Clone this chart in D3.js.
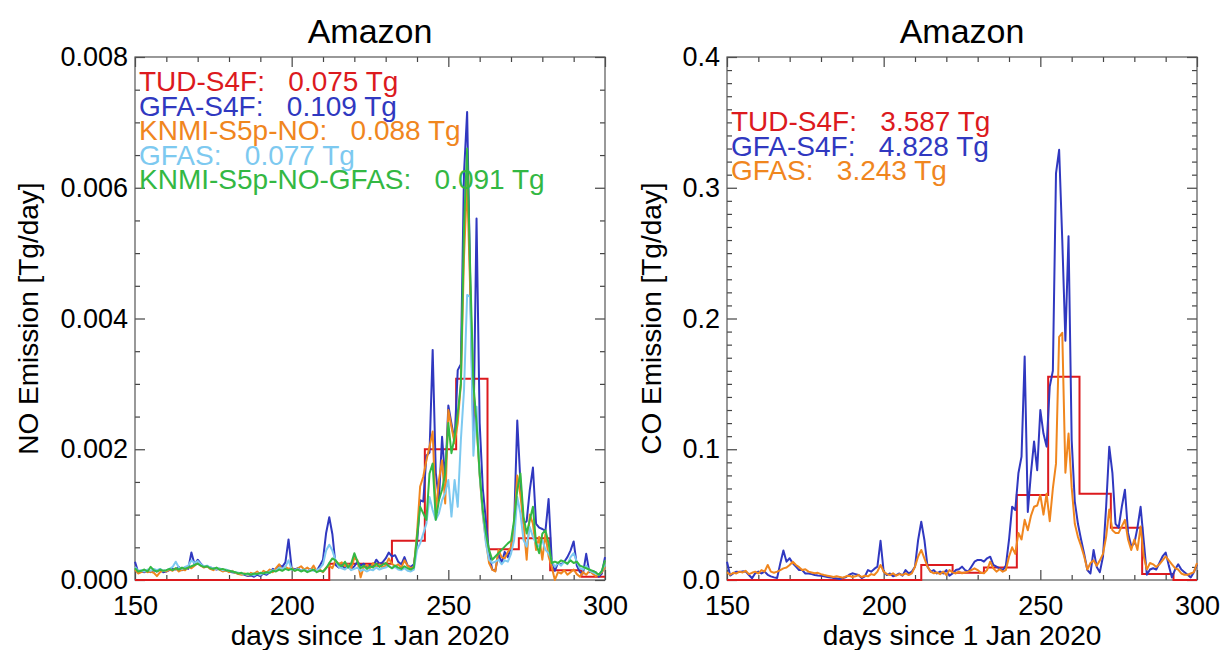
<!DOCTYPE html>
<html><head><meta charset="utf-8">
<script src="https://cdn.jsdelivr.net/npm/d3@7"></script>
<style>html,body{margin:0;padding:0;background:#fff;}svg{display:block;}</style>
</head><body>
<svg id="chart" width="1221" height="650"></svg>
<script>
// ---------------- DATA ----------------
const dayStart = 150, dayEnd = 300;
const xTickValues = [150, 200, 250, 300];
const noTickValues = [0, 0.002, 0.004, 0.006, 0.008];
const coTickValues = [0, 0.1, 0.2, 0.3, 0.4];

// TUD-S4F step periods (start day of each period) and values
const stepStarts = [150, 212, 222, 232, 242.5, 252.5, 262.5, 272.5, 282.5, 292.5];
const tudNO = [0, 0.00025, 0.00025, 0.0006, 0.0020, 0.00308, 0.00047, 0.00064, 0.00015, 0.00005];
const tudCO = [0, 0.0115, 0.0055, 0.0095, 0.065, 0.1555, 0.066, 0.040, 0.0046, 0.0];

// daily series, day 150..300
const gfaNO = [
0.00028,0.00012,0.00013,0.00012,0.00014,0.00012,0.00015,0.00013,0.00016,0.00012,
0.00013,0.00015,0.00017,0.00016,0.00020,0.00015,0.00018,0.00017,0.00042,0.00024,
0.00031,0.00025,0.00020,0.00021,0.00019,0.00018,0.00016,0.00017,0.00014,0.00015,
0.00013,0.00012,0.00011,0.00010,0.00009,0.00008,0.00006,0.00007,0.00005,0.00008,
0.00006,0.00010,0.00008,0.00012,0.00017,0.00014,0.00023,0.00020,0.00027,0.00062,
0.00018,0.00016,0.00018,0.00014,0.00016,0.00013,0.00017,0.00015,0.00014,0.00022,
0.00031,0.00072,0.00096,0.00070,0.00023,0.00019,0.00022,0.00018,0.00024,0.00017,
0.00021,0.00028,0.00022,0.00025,0.00020,0.00023,0.00021,0.00031,0.00025,0.00027,
0.00033,0.00042,0.00036,0.00038,0.00028,0.00024,0.00035,0.00022,0.00020,0.00024,
0.00056,0.00122,0.00120,0.00190,0.00195,0.00352,0.00164,0.00122,0.00219,0.00153,
0.00267,0.00239,0.00213,0.00321,0.00330,0.00622,0.00716,0.00450,0.00220,0.00553,
0.00240,0.00140,0.00090,0.00040,0.00016,0.00014,0.00041,0.00026,0.00043,0.00035,
0.00050,0.00086,0.00244,0.00150,0.00086,0.00090,0.00138,0.00172,0.00086,0.00080,
0.00078,0.00075,0.00124,0.00030,0.00014,0.00026,0.00024,0.00028,0.00035,0.00045,
0.00059,0.00022,0.00012,0.00010,0.00040,0.00012,0.00014,0.00012,0.00005,0.00010,
0.00035];
const knmiNO = [
0.00016,0.00010,0.00012,0.00014,0.00012,0.00013,0.00011,0.00006,0.00012,0.00014,
0.00013,0.00016,0.00014,0.00018,0.00013,0.00016,0.00015,0.00020,0.00018,0.00022,
0.00026,0.00022,0.00019,0.00021,0.00017,0.00015,0.00018,0.00016,0.00013,0.00015,
0.00012,0.00014,0.00011,0.00009,0.00008,0.00010,0.00007,0.00011,0.00009,0.00013,
0.00008,0.00014,0.00011,0.00016,0.00012,0.00018,0.00024,0.00015,0.00020,0.00017,
0.00019,0.00014,0.00018,0.00021,0.00016,0.00019,0.00015,0.00022,0.00013,0.00016,
0.00012,0.00019,0.00022,0.00018,0.00030,0.00024,0.00027,0.00021,0.00024,0.00018,
0.00034,0.00030,0.00004,0.00020,0.00023,0.00018,0.00026,0.00020,0.00024,0.00019,
0.00022,0.00033,0.00025,0.00021,0.00024,0.00019,0.00030,0.00022,0.00018,0.00020,
0.00071,0.00143,0.00158,0.00183,0.00204,0.00227,0.00102,0.00153,0.00183,0.00117,
0.00260,0.00234,0.00209,0.00240,0.00300,0.00494,0.00610,0.00440,0.00290,0.00240,
0.00160,0.00100,0.00060,0.00026,0.00016,0.00013,0.00046,0.00035,0.00033,0.00043,
0.00050,0.00086,0.00160,0.00130,0.00086,0.00031,0.00100,0.00086,0.00046,0.00066,
0.00031,0.00071,0.00036,0.00020,0.00000,0.00012,0.00010,0.00015,0.00008,0.00012,
0.00016,0.00009,0.00005,0.00012,0.00008,0.00014,0.00010,0.00006,0.00008,0.00012,
0.00020];
const gfasNO = [
0.00020,0.00014,0.00015,0.00013,0.00016,0.00014,0.00017,0.00015,0.00017,0.00014,
0.00015,0.00017,0.00020,0.00028,0.00019,0.00017,0.00020,0.00022,0.00030,0.00026,
0.00029,0.00024,0.00021,0.00022,0.00019,0.00018,0.00017,0.00018,0.00015,0.00016,
0.00014,0.00013,0.00012,0.00011,0.00010,0.00009,0.00008,0.00009,0.00007,0.00010,
0.00008,0.00011,0.00010,0.00013,0.00015,0.00014,0.00019,0.00017,0.00020,0.00030,
0.00016,0.00015,0.00017,0.00014,0.00016,0.00013,0.00016,0.00014,0.00015,0.00018,
0.00024,0.00045,0.00054,0.00045,0.00030,0.00020,0.00018,0.00016,0.00020,0.00015,
0.00017,0.00019,0.00014,0.00016,0.00013,0.00016,0.00015,0.00019,0.00016,0.00018,
0.00019,0.00022,0.00018,0.00020,0.00016,0.00015,0.00018,0.00014,0.00013,0.00016,
0.00046,0.00056,0.00071,0.00086,0.00127,0.00107,0.00092,0.00102,0.00122,0.00133,
0.00153,0.00097,0.00153,0.00112,0.00214,0.00290,0.00436,0.00433,0.00190,0.00265,
0.00163,0.00102,0.00056,0.00031,0.00026,0.00028,0.00031,0.00024,0.00030,0.00028,
0.00040,0.00061,0.00127,0.00102,0.00061,0.00051,0.00081,0.00066,0.00056,0.00051,
0.00061,0.00046,0.00041,0.00030,0.00020,0.00026,0.00022,0.00028,0.00024,0.00035,
0.00041,0.00028,0.00018,0.00016,0.00022,0.00014,0.00012,0.00010,0.00008,0.00014,
0.00024];
const knmiGfasNO = [
0.00018,0.00013,0.00014,0.00016,0.00013,0.00020,0.00015,0.00013,0.00016,0.00014,
0.00015,0.00017,0.00015,0.00018,0.00016,0.00019,0.00017,0.00019,0.00021,0.00023,
0.00025,0.00022,0.00020,0.00021,0.00018,0.00017,0.00019,0.00016,0.00017,0.00015,
0.00014,0.00013,0.00012,0.00010,0.00011,0.00009,0.00010,0.00008,0.00010,0.00009,
0.00011,0.00010,0.00012,0.00011,0.00014,0.00013,0.00016,0.00014,0.00017,0.00015,
0.00017,0.00014,0.00016,0.00013,0.00015,0.00012,0.00014,0.00016,0.00012,0.00014,
0.00013,0.00018,0.00026,0.00033,0.00030,0.00024,0.00021,0.00028,0.00019,0.00025,
0.00041,0.00028,0.00018,0.00022,0.00017,0.00021,0.00019,0.00025,0.00020,0.00023,
0.00026,0.00021,0.00018,0.00022,0.00019,0.00017,0.00021,0.00018,0.00016,0.00019,
0.00066,0.00112,0.00102,0.00092,0.00163,0.00178,0.00092,0.00122,0.00138,0.00163,
0.00240,0.00194,0.00219,0.00255,0.00300,0.00540,0.00660,0.00470,0.00300,0.00240,
0.00163,0.00107,0.00071,0.00046,0.00031,0.00036,0.00041,0.00046,0.00051,0.00056,
0.00060,0.00092,0.00138,0.00163,0.00097,0.00071,0.00092,0.00112,0.00056,0.00041,
0.00071,0.00076,0.00056,0.00026,0.00028,0.00026,0.00030,0.00028,0.00025,0.00030,
0.00026,0.00028,0.00022,0.00020,0.00018,0.00016,0.00014,0.00012,0.00008,0.00014,
0.00030];
const gfaCO = [
0.0140,0.0034,0.0050,0.0064,0.0062,0.0066,0.0064,0.0038,0.0013,0.0051,
0.0064,0.0050,0.0064,0.0040,0.0028,0.0020,0.0015,0.0127,0.0225,0.0140,
0.0166,0.0127,0.0102,0.0076,0.0076,0.0050,0.0050,0.0045,0.0038,0.0035,
0.0033,0.0028,0.0023,0.0020,0.0015,0.0012,0.0008,0.0015,0.0023,0.0040,
0.0051,0.0045,0.0038,0.0015,0.0028,0.0076,0.0064,0.0085,0.0102,0.0300,
0.0064,0.0038,0.0050,0.0028,0.0038,0.0050,0.0033,0.0076,0.0050,0.0064,
0.0102,0.0306,0.0446,0.0306,0.0102,0.0064,0.0076,0.0050,0.0064,0.0050,
0.0076,0.0033,0.0050,0.0076,0.0082,0.0102,0.0076,0.0064,0.0102,0.0140,
0.0153,0.0153,0.0140,0.0166,0.0178,0.0115,0.0102,0.0089,0.0076,0.0110,
0.0306,0.0561,0.0535,0.0816,0.0944,0.1710,0.0520,0.0816,0.1060,0.0840,
0.1300,0.1120,0.1020,0.1480,0.1600,0.3110,0.3290,0.2600,0.1830,0.2630,
0.1070,0.0600,0.0430,0.0310,0.0200,0.0076,0.0050,0.0230,0.0100,0.0060,
0.0180,0.0560,0.1020,0.0820,0.0430,0.0400,0.0560,0.0690,0.0360,0.0260,
0.0280,0.0400,0.0560,0.0300,0.0040,0.0080,0.0090,0.0080,0.0130,0.0180,
0.0210,0.0110,0.0020,0.0080,0.0120,0.0080,0.0060,0.0040,0.0020,0.0060,
0.0120];
const gfasCO = [
0.0060,0.0040,0.0055,0.0050,0.0064,0.0058,0.0070,0.0045,0.0055,0.0064,
0.0050,0.0076,0.0064,0.0115,0.0064,0.0055,0.0064,0.0076,0.0089,0.0095,
0.0115,0.0140,0.0115,0.0098,0.0076,0.0082,0.0064,0.0058,0.0051,0.0055,
0.0045,0.0038,0.0033,0.0028,0.0023,0.0028,0.0023,0.0018,0.0028,0.0033,
0.0023,0.0028,0.0038,0.0023,0.0033,0.0028,0.0045,0.0038,0.0064,0.0115,
0.0064,0.0045,0.0038,0.0051,0.0033,0.0045,0.0038,0.0051,0.0038,0.0051,
0.0102,0.0180,0.0230,0.0166,0.0102,0.0064,0.0051,0.0058,0.0045,0.0064,
0.0038,0.0076,0.0058,0.0050,0.0064,0.0051,0.0058,0.0064,0.0076,0.0089,
0.0076,0.0056,0.0051,0.0076,0.0140,0.0089,0.0064,0.0082,0.0064,0.0076,
0.0178,0.0250,0.0200,0.0360,0.0310,0.0460,0.0380,0.0490,0.0560,0.0570,
0.0650,0.0500,0.0660,0.0450,0.0700,0.0890,0.1860,0.1890,0.0820,0.1120,
0.0710,0.0430,0.0330,0.0260,0.0180,0.0080,0.0130,0.0150,0.0110,0.0150,
0.0200,0.0330,0.0540,0.0380,0.0360,0.0360,0.0410,0.0460,0.0310,0.0230,
0.0310,0.0230,0.0410,0.0180,0.0080,0.0130,0.0120,0.0100,0.0120,0.0150,
0.0180,0.0150,0.0120,0.0090,0.0080,0.0050,0.0040,0.0040,0.0050,0.0060,
0.0130];

const seriesNames = ["TUD-S4F:", "GFA-S4F:", "KNMI-S5p-NO:", "GFAS:", "KNMI-S5p-NO-GFAS:"];
const totalsNO = ["0.075 Tg", "0.109 Tg", "0.088 Tg", "0.077 Tg", "0.091 Tg"];
const coNames = ["TUD-S4F:", "GFA-S4F:", "GFAS:"];
const totalsCO = ["3.587 Tg", "4.828 Tg", "3.243 Tg"];

// ---------------- STYLE ----------------
const FONT = "'Liberation Sans', Arial, Helvetica, sans-serif";
const C = {red: "#dc1a1e", blue: "#3038c0", orange: "#f0861e", light: "#7dc9f0", green: "#33b843"};
const W = 470, H = 523, TOP = 57;

const svg = d3.select("#chart");
const days = d3.range(dayStart, dayEnd + 1);

function drawPanel(cfg) {
  const g = svg.append("g").attr("transform", `translate(${cfg.left},${TOP})`);
  const x = d3.scaleLinear().domain([dayStart, dayEnd]).range([0, W]);
  const y = d3.scaleLinear().domain([0, cfg.ymax]).range([H, 0]);

  const style = sel => {
    sel.select(".domain").remove();
    sel.selectAll(".tick line").attr("stroke", "#444").attr("stroke-width", 1.2);
    sel.selectAll("text").attr("font-size", 27).attr("fill", "#000").attr("font-family", FONT);
  };
  const xMinor = d3.range(dayStart, dayEnd + 1, 10).filter(v => !xTickValues.includes(v));
  const yMinor = d3.range(0, cfg.ymax * 1.0001, cfg.yminor).filter(v => !cfg.ticks.some(t => Math.abs(t - v) < cfg.yminor / 10));

  // major + minor ticks, inward, all 4 sides
  g.append("g").attr("transform", `translate(0,${H})`)
    .call(d3.axisBottom(x).tickValues(xTickValues).tickSize(-10).tickPadding(16).tickFormat(d3.format("d"))).call(style);
  g.append("g").attr("transform", `translate(0,${H})`)
    .call(d3.axisBottom(x).tickValues(xMinor).tickSize(-5).tickFormat("")).call(style);
  g.append("g").call(d3.axisTop(x).tickValues(xTickValues).tickSize(-10).tickFormat("")).call(style);
  g.append("g").call(d3.axisTop(x).tickValues(xMinor).tickSize(-5).tickFormat("")).call(style);
  g.append("g").call(d3.axisLeft(y).tickValues(cfg.ticks).tickSize(-10).tickPadding(7).tickFormat(d3.format(cfg.fmt))).call(style);
  g.append("g").call(d3.axisLeft(y).tickValues(yMinor).tickSize(-5).tickFormat("")).call(style);
  g.append("g").attr("transform", `translate(${W},0)`).call(d3.axisRight(y).tickValues(cfg.ticks).tickSize(-10).tickFormat("")).call(style);
  g.append("g").attr("transform", `translate(${W},0)`).call(d3.axisRight(y).tickValues(yMinor).tickSize(-5).tickFormat("")).call(style);

  g.append("rect").attr("width", W).attr("height", H).attr("fill", "none")
    .attr("stroke", "#555").attr("stroke-width", 1.2);

  // red step series
  const stepPts = stepStarts.map((s, i) => [s, cfg.step[i]]);
  stepPts.push([dayEnd, cfg.step[cfg.step.length - 1]]);
  g.append("path").datum(stepPts)
    .attr("d", d3.line().x(d => x(d[0])).y(d => y(d[1])).curve(d3.curveStepAfter))
    .attr("fill", "none").attr("stroke", C.red).attr("stroke-width", 2);

  const line = d3.line().x((d, i) => x(days[i])).y(d => y(d));
  cfg.series.forEach(s => {
    g.append("path").datum(s.values).attr("d", line)
      .attr("fill", "none").attr("stroke", s.color).attr("stroke-width", 2)
      .attr("stroke-linejoin", "round");
  });

  // titles and labels
  g.append("text").attr("x", W / 2).attr("y", -14).attr("text-anchor", "middle")
    .attr("font-family", FONT).attr("font-size", 34).text("Amazon");
  g.append("text").attr("x", W / 2).attr("y", 588).attr("text-anchor", "middle")
    .attr("font-family", FONT).attr("font-size", 28).text("days since 1 Jan 2020");
  g.append("text").attr("transform", `translate(${cfg.ylabX},${H / 2}) rotate(-90)`)
    .attr("text-anchor", "middle").attr("font-family", FONT).attr("font-size", 28).text(cfg.ylabel);

  // legend
  cfg.legend.forEach((L, i) => {
    g.append("text").attr("x", 4).attr("y", cfg.legY + i * 24.6)
      .attr("font-family", FONT).attr("font-size", 28).attr("fill", L.color)
      .style("white-space", "pre").text(L.name + "   " + L.total);
  });
}

drawPanel({
  left: 135, ymax: 0.008, ticks: noTickValues, yminor: 0.0005, fmt: ".3f",
  step: tudNO, ylabel: "NO Emission [Tg/day]", ylabX: -97, legY: 34,
  series: [
    {values: gfaNO, color: C.blue},
    {values: knmiNO, color: C.orange},
    {values: gfasNO, color: C.light},
    {values: knmiGfasNO, color: C.green}
  ],
  legend: [
    {name: seriesNames[0], total: totalsNO[0], color: C.red},
    {name: seriesNames[1], total: totalsNO[1], color: C.blue},
    {name: seriesNames[2], total: totalsNO[2], color: C.orange},
    {name: seriesNames[3], total: totalsNO[3], color: C.light},
    {name: seriesNames[4], total: totalsNO[4], color: C.green}
  ]
});

drawPanel({
  left: 727, ymax: 0.4, ticks: coTickValues, yminor: 0.01, fmt: ".1f",
  step: tudCO, ylabel: "CO Emission [Tg/day]", ylabX: -66, legY: 74,
  series: [
    {values: gfaCO, color: C.blue},
    {values: gfasCO, color: C.orange}
  ],
  legend: [
    {name: coNames[0], total: totalsCO[0], color: C.red},
    {name: coNames[1], total: totalsCO[1], color: C.blue},
    {name: coNames[2], total: totalsCO[2], color: C.orange}
  ]
});
</script>
</body></html>
